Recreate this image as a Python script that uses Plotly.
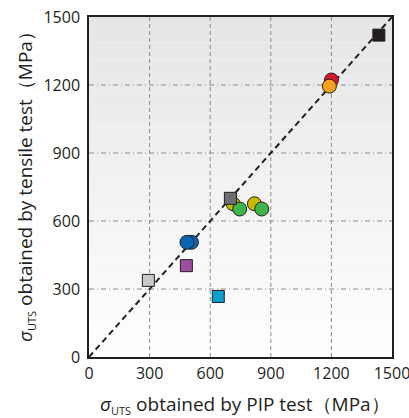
import plotly.graph_objects as go

# Data (MPa): PIP test (x) vs tensile test (y)
circle_x = [1200, 1190, 713, 746, 819, 855, 507, 485]
circle_y = [1222, 1195, 676, 653, 676, 653, 506, 506]
circle_colors = ["#d7182a", "#f6a21d", "#c9b800", "#3db54a", "#c9b800", "#3db54a", "#0a64b4", "#0a64b4"]

square_x = [1435, 700, 482, 294, 640]
square_y = [1420, 700, 403, 338, 267]
square_colors = ["#231f20", "#6d6e71", "#9b4f9f", "#c7c8ca", "#0aa0cf"]

ref_line = [0, 1500]
ticks = [0, 300, 600, 900, 1200, 1500]
sub = "<sub><span style='font-size:11px'>UTS</span></sub>"
x_title = "<i>σ</i>" + sub + " obtained by PIP test（MPa）"
y_title = "<i>σ</i>" + sub + " obtained by tensile test（MPa）"

fig = go.Figure()

# background gradient (domain shapes)
n = 40
for i in range(n):
    t = i / n
    c0 = (228, 229, 231)
    c1 = (255, 255, 255)
    f = (i + 0.5) / n
    col = tuple(int(round(c1[k] + (c0[k] - c1[k]) * f)) for k in range(3))
    fig.add_shape(type="rect", xref="x domain", yref="y domain",
                  x0=0, x1=1, y0=t, y1=(i + 1) / n,
                  fillcolor="rgb(%d,%d,%d)" % col, line_width=0, layer="below")

# gridlines
for v in ticks[1:-1]:
    fig.add_shape(type="line", xref="x", yref="y domain", x0=v, x1=v, y0=0, y1=1,
                  line=dict(color="#8a8a8a", width=1, dash="4px,3px"), layer="below")
    fig.add_shape(type="line", xref="x domain", yref="y", x0=0, x1=1, y0=v, y1=v,
                  line=dict(color="#8a8a8a", width=1, dash="5px,3px,1px,3px"), layer="below")

fig.add_trace(go.Scatter(x=ref_line, y=ref_line, mode="lines",
                         line=dict(color="#231f20", width=2, dash="6px,4px"),
                         showlegend=False, hoverinfo="skip"))

fig.add_trace(go.Scatter(x=circle_x, y=circle_y, mode="markers",
                         marker=dict(symbol="circle", size=14, color=circle_colors,
                                     line=dict(color="#231f20", width=1)),
                         showlegend=False))
fig.add_trace(go.Scatter(x=square_x, y=square_y, mode="markers",
                         marker=dict(symbol="square", size=12, color=square_colors,
                                     line=dict(color="#231f20", width=1)),
                         showlegend=False))

font_family = "Open Sans, Noto Sans, sans-serif"
axis_common = dict(range=[0, 1500], tickvals=ticks, showgrid=False, zeroline=False,
                   showline=True, linecolor="#231f20", linewidth=1.5, mirror=True,
                   ticks="", automargin=False, ticklabeloverflow="allow",
                   tickfont=dict(size=16, color="#231f20", family=font_family))

fig.update_layout(
    width=409, height=418,
    margin=dict(l=89, r=17, t=17, b=61),
    paper_bgcolor="white", plot_bgcolor="white",
    font=dict(family=font_family, color="#231f20"),
    xaxis=dict(**axis_common, ticklabelstandoff=1),
    yaxis=dict(**axis_common, ticklabelstandoff=4),
    annotations=[
        dict(text=x_title, xref="paper", yref="paper", x=0.5, y=0,
             yshift=-47, xshift=4, xanchor="center", yanchor="middle", showarrow=False,
             font=dict(size=19)),
        dict(text=y_title, xref="paper", yref="paper", x=0, y=0.5,
             xshift=-64, yshift=5, xanchor="center", yanchor="middle", showarrow=False,
             textangle=-90, font=dict(size=19)),
    ],
)

fig.write_html("out.html", config={"displayModeBar": False},
               post_script="document.body.style.margin='0';document.body.style.padding='0';")
